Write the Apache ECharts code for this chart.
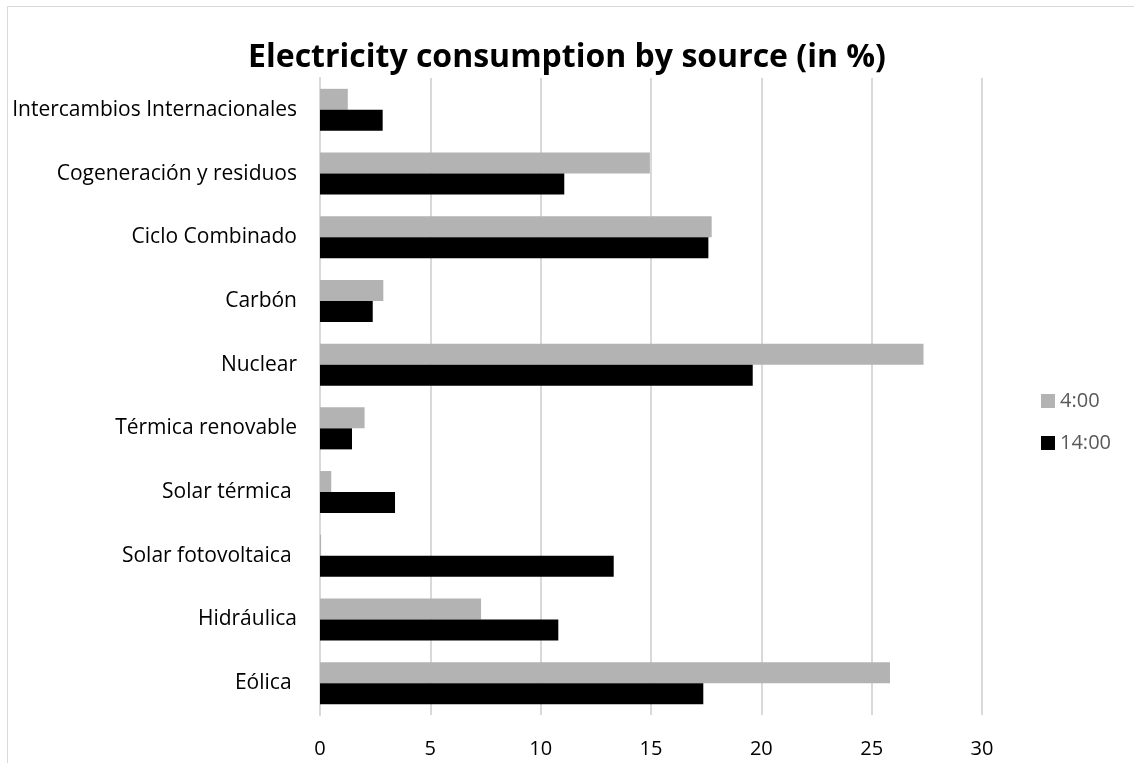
<!DOCTYPE html>
<html>
<head>
<meta charset="utf-8">
<script src="https://cdn.jsdelivr.net/npm/echarts@6/dist/echarts.min.js"></script>
<style>
html,body{margin:0;padding:0;background:#fff;}
#chart{width:1134px;height:763px;}
</style>
</head>
<body>
<div id="chart"></div>
<script>
// categories, bottom to top as on the chart
var sources = ['Eólica ', 'Hidráulica', 'Solar fotovoltaica ', 'Solar térmica ', 'Térmica renovable',
	'Nuclear', 'Carbón', 'Ciclo Combinado', 'Cogeneración y residuos', 'Intercambios Internacionales'];
var at4 = [25.83, 7.3, 0.05, 0.51, 2.02, 27.35, 2.87, 17.75, 14.95, 1.26];
var at14 = [17.37, 10.8, 13.31, 3.4, 1.45, 19.61, 2.39, 17.6, 11.07, 2.84];
var xTicks = [0, 30, 5];

var myChart = echarts.init(document.getElementById('chart'));
var font = 'Open Sans';
var option = {
	animation: false,
	title: {
		text: 'Electricity consumption by source (in %)',
		left: 'center',
		top: 37,
		textStyle: {fontFamily: font, fontSize: 32, fontWeight: 'bold', color: '#000'}
	},
	graphic: [{
		type: 'rect',
		shape: {x: 7.5, y: 6.5, width: 1200, height: 1000},
		style: {fill: 'none', stroke: '#d9d9d9', lineWidth: 1}
	}],
	legend: {
		data: ['4:00', '14:00'],
		orient: 'vertical',
		left: 1036,
		top: 386,
		itemWidth: 14,
		itemHeight: 14,
		itemGap: 22,
		icon: 'rect',
		textStyle: {fontFamily: font, fontSize: 20, color: '#595959'}
	},
	grid: {left: 320, right: 152, top: 78, bottom: 48},
	xAxis: {
		type: 'value',
		min: xTicks[0],
		max: xTicks[1],
		interval: xTicks[2],
		axisLine: {show: false},
		axisTick: {show: false},
		axisLabel: {fontFamily: font, fontSize: 20, color: '#000', margin: 24},
		splitLine: {lineStyle: {color: '#d9d9d9', width: 2}}
	},
	yAxis: {
		type: 'category',
		data: sources,
		axisLine: {lineStyle: {color: '#d9d9d9', width: 2}},
		axisTick: {show: false},
		axisLabel: {fontFamily: font, fontSize: 21, color: '#000', margin: 23}
	},
	series: [{
		name: '4:00',
		type: 'bar',
		data: at4,
		barGap: '0%',
		barCategoryGap: '34%',
		itemStyle: {color: '#b3b3b3'}
	}, {
		name: '14:00',
		type: 'bar',
		data: at14,
		barGap: '0%',
		barCategoryGap: '34%',
		itemStyle: {color: '#000'}
	}]
};
myChart.setOption(option);
</script>
</body>
</html>
